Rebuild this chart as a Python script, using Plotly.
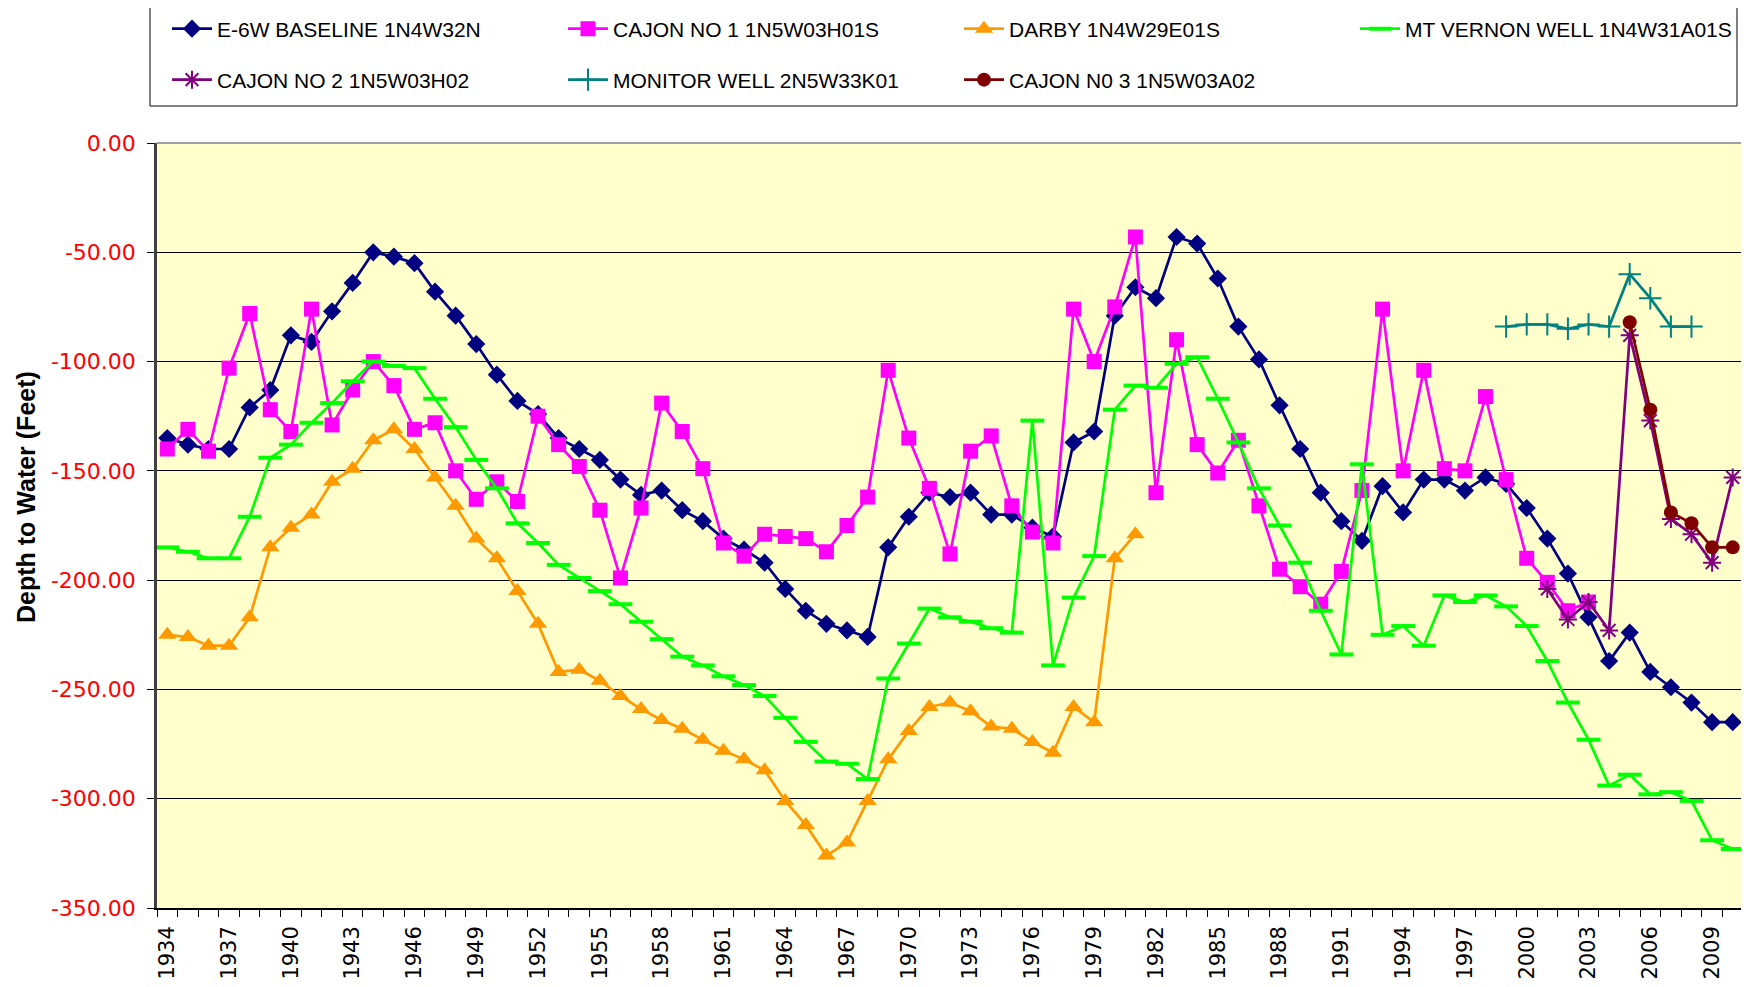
import plotly.graph_objects as go

# ---------------- data ----------------
e6w_years = list(range(1934, 2011))
e6w_vals = [-135, -138, -140, -140, -121, -113, -88, -91, -77, -64,
            -50, -52, -55, -68, -79, -92, -106, -118, -124, -135,
            -140, -145, -154, -161, -159, -168, -173, -181, -186, -192,
            -204, -214, -220, -223, -226, -185, -171, -160, -162, -160,
            -170, -170, -176, -180, -137, -132, -79, -66, -71, -43,
            -46, -62, -84, -99, -120, -140, -160, -173, -182, -157,
            -169, -154, -154, -159, -153, -156, -167, -181, -197, -217,
            -237, -224, -242, -249, -256, -265, -265]

cajon1_years = list(range(1934, 2004))
cajon1_vals = [-140, -131, -141, -103, -78, -122, -132, -76, -129, -113,
               -100, -111, -131, -128, -150, -163, -155, -164, -125, -138,
               -148, -168, -199, -167, -119, -132, -149, -183, -189, -179,
               -180, -181, -187, -175, -162, -104, -135, -158, -188, -141,
               -134, -166, -178, -183, -76, -100, -75, -43, -160, -90,
               -138, -151, -136, -166, -195, -203, -211, -196, -159, -76,
               -150, -104, -149, -150, -116, -154, -190, -201, -214, -210]

darby_years = list(range(1934, 1982))
darby_vals = [-225, -226, -230, -230, -217, -185, -176, -170, -155, -149,
              -136, -131, -140, -153, -166, -181, -190, -205, -220, -242,
              -241, -246, -253, -259, -264, -268, -273, -278, -282, -287,
              -301, -312, -326, -320, -301, -282, -269, -258, -256, -260,
              -267, -268, -274, -279, -258, -265, -190, -179]

mtv_years = list(range(1934, 2011))
mtv_vals = [-185, -187, -190, -190, -171, -144, -138, -128, -119, -109,
            -100, -102, -103, -117, -130, -145, -158, -174, -183, -193,
            -199, -205, -211, -219, -227, -235, -239, -244, -248, -253,
            -263, -274, -283, -284, -291, -245, -229, -213, -217, -219,
            -222, -224, -127, -239, -208, -189, -122, -111, -112, -101,
            -98, -117, -137, -158, -175, -192, -214, -234, -147, -225,
            -221, -230, -207, -210, -207, -212, -221, -237, -256, -273,
            -294, -289, -298, -297, -301, -319, -323]

cajon2_years = list(range(2001, 2011))
cajon2_vals = [-204, -218, -210, -223, -88, -127, -172, -179, -192, -153]

monitor_years = list(range(1999, 2009))
monitor_vals = [-84, -83, -83, -85, -83, -84, -60, -71, -84, -84]

cajon3_years = list(range(2005, 2011))
cajon3_vals = [-82, -122, -169, -174, -185, -185]

y_ticks = [0, -50, -100, -150, -200, -250, -300, -350]
x_label_years = list(range(1934, 2011, 3))

# ---------------- layout geometry ----------------
# page has an 8px body margin; figure is sized so it fits the 1749x987 window
OFF = 8
W, H = 1749 - OFF, 987 - OFF
# plot area in page pixels: left 157, right 1743, top 143, bottom 908
ML = 157 - OFF
MT = 143 - OFF
MR = W - (1743 - OFF)
MB = H - (908 - OFF)
PW = W - ML - MR
PH = H - MT - MB


def px_x(p):  # page pixel -> paper
    return (p - OFF - ML) / PW


def px_y(p):
    return (H - MB - (p - OFF)) / PH


fig = go.Figure()

series = [
    ("E-6W BASELINE 1N4W32N", e6w_years, e6w_vals, "#000080",
     dict(symbol="diamond", size=14, color="#000080")),
    ("CAJON NO 1 1N5W03H01S", cajon1_years, cajon1_vals, "#FF00FF",
     dict(symbol="square", size=15, color="#FF00FF")),
    ("DARBY 1N4W29E01S", darby_years, darby_vals, "#FF9900",
     dict(symbol="triangle-up", size=16, color="#FF9900")),
    ("MT VERNON WELL 1N4W31A01S", mtv_years, mtv_vals, "#00FF00",
     dict(symbol="line-ew", size=17, color="#00FF00",
          line=dict(color="#00FF00", width=4))),
    ("CAJON NO 2 1N5W03H02", cajon2_years, cajon2_vals, "#800080",
     dict(symbol="asterisk", size=15, color="#800080",
          line=dict(color="#800080", width=2))),
    ("MONITOR WELL 2N5W33K01", monitor_years, monitor_vals, "#008080",
     dict(symbol="cross-thin", size=16, color="#008080",
          line=dict(color="#008080", width=2))),
    ("CAJON N0 3 1N5W03A02", cajon3_years, cajon3_vals, "#800000",
     dict(symbol="circle", size=14, color="#800000")),
]

# legend text start positions (page pixels) for each entry
legend_pos = [(217, 29), (613, 29), (1009, 29), (1405, 29),
              (217, 80), (613, 80), (1009, 80)]

legend_font = dict(family="Liberation Sans, Arial, sans-serif", size=21, color="black")

for i, (name, xs, ys, col, mk) in enumerate(series):
    lname = "legend" if i == 0 else f"legend{i + 1}"
    fig.add_trace(go.Scatter(
        x=xs, y=ys, name=name, mode="lines+markers",
        line=dict(color=col, width=2.7),
        marker=mk,
        legend=lname,
    ))
    tx, ty = legend_pos[i]
    fig.update_layout(**{lname: dict(
        x=px_x(tx - 50), y=px_y(ty), xanchor="left", yanchor="middle",
        bgcolor="rgba(0,0,0,0)", borderwidth=0, font=legend_font,
        orientation="h", itemwidth=40,
    )})

# legend border box
fig.add_shape(type="rect", xref="paper", yref="paper",
              x0=px_x(150), x1=px_x(1737), y0=px_y(106), y1=px_y(4),
              line=dict(color="black", width=1), fillcolor="rgba(0,0,0,0)")

# plot border top/right (gray)
fig.add_shape(type="line", xref="paper", yref="paper", x0=0, x1=1, y0=1, y1=1,
              line=dict(color="#808080", width=1.5))
fig.add_shape(type="line", xref="paper", yref="paper", x0=1, x1=1, y0=0, y1=1,
              line=dict(color="#808080", width=3))

# y-axis title as annotation
fig.add_annotation(text="<b>Depth to Water (Feet)</b>", xref="paper", yref="paper",
                   x=px_x(26), y=px_y(497), textangle=-90, showarrow=False,
                   font=dict(family="Liberation Sans, Arial, sans-serif", size=25, color="black"),
                   xanchor="center", yanchor="middle", borderpad=0)

fig.update_layout(
    width=W, height=H,
    margin=dict(l=ML, r=MR, t=MT, b=MB, autoexpand=False),
    paper_bgcolor="white",
    plot_bgcolor="#FFFFCC",
    showlegend=True,
    xaxis=dict(
        range=[1933.5, 2010.5],
        tickmode="array",
        tickvals=x_label_years,
        ticktext=[str(y) for y in x_label_years],
        tickangle=-90,
        ticks="",
        showgrid=False,
        zeroline=False,
        showline=True, linecolor="black", linewidth=1.5,
        tickfont=dict(family="DejaVu Sans, sans-serif", size=21, color="black"),
        ticklabelstandoff=8,
        minor=dict(tickmode="linear", tick0=1933.5, dtick=1, ticks="outside",
                   ticklen=7, tickcolor="black", tickwidth=1, showgrid=False),
    ),
    yaxis=dict(
        range=[-350, 0],
        tickmode="array",
        tickvals=y_ticks,
        ticktext=[f"{v:.2f}" for v in y_ticks],
        ticks="outside", ticklen=7, tickcolor="black",
        showgrid=True, gridcolor="black", gridwidth=1,
        zeroline=False,
        showline=True, linecolor="#404040", linewidth=2.5,
        tickfont=dict(family="DejaVu Sans, sans-serif", size=22, color="#FF0000"),
        ticklabelstandoff=7,
    ),
)

fig.write_html("out.html")
